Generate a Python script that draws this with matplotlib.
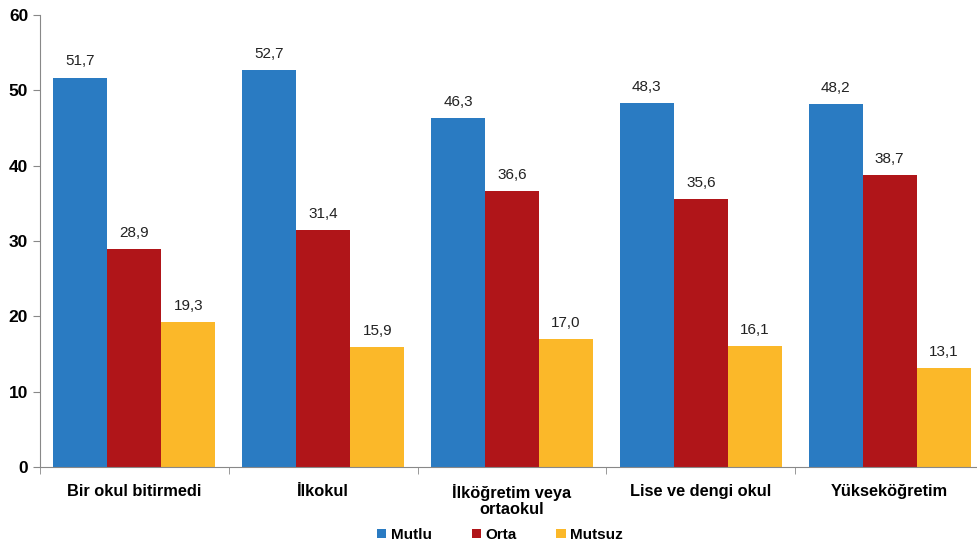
import matplotlib.pyplot as plt
import numpy as np

plt.rcParams["font.family"] = ["Liberation Sans", "DejaVu Sans"]

categories = ["Bir okul bitirmedi", "İlkokul", "İlköğretim veya\nortaokul",
              "Lise ve dengi okul", "Yükseköğretim"]
series_names = ["Mutlu", "Orta", "Mutsuz"]
mutlu = [51.7, 52.7, 46.3, 48.3, 48.2]
orta = [28.9, 31.4, 36.6, 35.6, 38.7]
mutsuz = [19.3, 15.9, 17.0, 16.1, 13.1]
colors = ["#2a7bc2", "#b01519", "#fbb829"]

fig = plt.figure(figsize=(9.77, 5.47), dpi=100)
ax = fig.add_axes([40 / 977, 80 / 547, 944 / 977, 452 / 547])

x = np.arange(len(categories))
w = 0.286
for i, (vals, name, c) in enumerate(zip([mutlu, orta, mutsuz], series_names, colors)):
    bars = ax.bar(x + (i - 1) * w, vals, w, color=c, label=name)
    for b, v in zip(bars, vals):
        ax.text(b.get_x() + b.get_width() / 2, v + 1.2, f"{v:.1f}".replace(".", ","),
                ha="center", va="bottom", fontsize=11, color="#222222")

ax.set_xlim(-0.5, len(categories) - 0.5)
ax.set_ylim(0, 60)
ax.set_yticks(range(0, 61, 10))
ax.tick_params(axis="y", labelsize=12.5, direction="out", length=5, color="#888888")
for t in ax.get_yticklabels():
    t.set_fontweight("bold")

ax.set_xticks(x)
ax.set_xticklabels(categories, fontsize=11.8, fontweight="bold", linespacing=1.15)
ax.tick_params(axis="x", length=0, pad=12)
ax.set_xticks(np.arange(-0.5, len(categories), 1), minor=True)
ax.tick_params(axis="x", which="minor", direction="out", length=5, color="#888888")

for s in ["top", "right"]:
    ax.spines[s].set_visible(False)
for s in ["left", "bottom"]:
    ax.spines[s].set_color("#888888")

leg = fig.legend(loc="center", bbox_to_anchor=(500 / 977, 1 - 535 / 547), ncol=3,
                 frameon=False, handlelength=0.6, handleheight=0.6, handletextpad=0.3,
                 columnspacing=2.6, prop={"weight": "bold", "size": 11})

fig.savefig("out.png", dpi=100)
